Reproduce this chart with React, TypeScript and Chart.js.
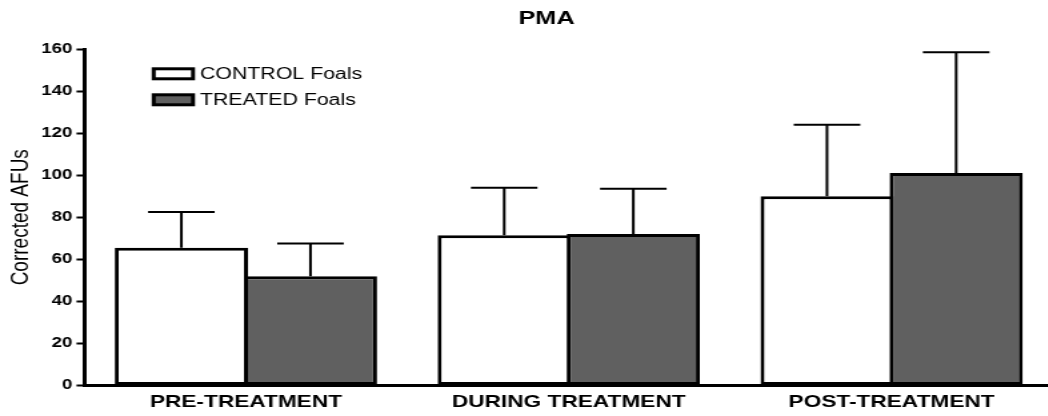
import { useEffect, useRef } from 'react';
import { Chart, registerables } from 'chart.js';

Chart.register(...registerables);

// ---- data ----
const chartTitle = 'PMA';
const yAxisTitle = 'Corrected AFUs';
const categories = ['PRE-TREATMENT', 'DURING TREATMENT', 'POST-TREATMENT'];
const seriesNames = ['CONTROL Foals', 'TREATED Foals'];
const controlMeans = [65.5, 71.5, 90];
const controlErrors = [17, 22.5, 34];
const treatedMeans = [52, 72, 101];
const treatedErrors = [15.5, 21.5, 57.5];
const yMin = 0;
const yMax = 160;
const yStep = 20;

// ---- styling ----
const FONT = '"Liberation Sans", Arial, Helvetica, sans-serif';
const seriesFills = ['#ffffff', '#606060'];
// The drawing buffer is rendered narrower and widened with CSS (wide lettering).
const CANVAS_W = 790;
const CANVAS_H = 416;
const X_STRETCH = 4 / 3;

// Upward-only error bars with a cap, drawn from each bar's top.
const errorBarsPlugin = {
  id: 'errorBars',
  afterDatasetsDraw(chart: any) {
    const { ctx } = chart;
    const yScale = chart.scales.y;
    chart.data.datasets.forEach((ds: any, di: number) => {
      const meta = chart.getDatasetMeta(di);
      meta.data.forEach((bar: any, i: number) => {
        const { x, y, width } = bar.getProps(['x', 'y', 'width'], true);
        const top = yScale.getPixelForValue(ds.data[i] + ds.errors[i]);
        const half = width * 0.25;
        ctx.save();
        ctx.strokeStyle = '#000';
        ctx.lineWidth = 2;
        ctx.beginPath();
        ctx.moveTo(x, y);
        ctx.lineTo(x, top);
        ctx.moveTo(x - half, top);
        ctx.lineTo(x + half, top);
        ctx.stroke();
        ctx.restore();
      });
    });
  },
};

// Title and the boxed key in the upper-left of the plot.
const headerAndKeyPlugin = {
  id: 'headerAndKey',
  afterDraw(chart: any) {
    const { ctx } = chart;
    ctx.save();
    ctx.fillStyle = '#000';
    ctx.font = `bold 19px ${FONT}`;
    ctx.textAlign = 'center';
    ctx.textBaseline = 'middle';
    ctx.fillText(chartTitle, 410, 19);

    chart.data.datasets.forEach((ds: any, i: number) => {
      const cy = 73.8 + i * 26;
      ctx.fillStyle = ds.backgroundColor;
      ctx.fillRect(115.3, cy - 5, 29.5, 10);
      ctx.lineWidth = 3;
      ctx.strokeStyle = '#000';
      ctx.strokeRect(115.3, cy - 5, 29.5, 10);
      ctx.fillStyle = '#000';
      ctx.font = `16px ${FONT}`;
      ctx.textAlign = 'left';
      ctx.textBaseline = 'middle';
      ctx.fillText(ds.label, 150, cy + 0.5);
    });
    ctx.restore();
  },
};

export default function App() {
  const canvasRef = useRef<HTMLCanvasElement | null>(null);

  useEffect(() => {
    if (!canvasRef.current) return;
    const chart = new Chart(canvasRef.current, {
      type: 'bar',
      data: {
        labels: categories,
        datasets: [
          {
            label: seriesNames[0],
            data: controlMeans,
            errors: controlErrors,
            backgroundColor: seriesFills[0],
            borderColor: '#000',
            borderWidth: 3,
            borderSkipped: false,
          } as any,
          {
            label: seriesNames[1],
            data: treatedMeans,
            errors: treatedErrors,
            backgroundColor: seriesFills[1],
            borderColor: '#000',
            borderWidth: 3,
            borderSkipped: false,
          } as any,
        ],
      },
      options: {
        responsive: false,
        animation: false,
        devicePixelRatio: 1,
        layout: { padding: { top: 49, right: 0, bottom: 0, left: 0 } },
        datasets: { bar: { categoryPercentage: 0.8, barPercentage: 1.031 } },
        plugins: {
          legend: { display: false },
          title: { display: false },
          tooltip: { enabled: false },
        },
        scales: {
          x: {
            grid: { display: false, drawTicks: false },
            border: { display: true, color: '#000', width: 3 },
            ticks: {
              color: '#000',
              font: { family: FONT, size: 17, weight: 'bold' },
              padding: 7,
              maxRotation: 0,
              autoSkip: false,
            },
            afterFit: (s: any) => {
              s.height = 30.5;
            },
          },
          y: {
            min: yMin,
            max: yMax,
            ticks: {
              stepSize: yStep,
              color: '#000',
              font: { family: FONT, size: 14, weight: 'bold' },
              padding: 3,
            },
            grid: {
              drawOnChartArea: false,
              drawTicks: true,
              tickLength: 6,
              tickWidth: 2,
              tickColor: '#000',
              color: '#000',
            },
            border: { display: true, color: '#000', width: 3 },
            title: {
              display: true,
              text: yAxisTitle,
              color: '#000',
              font: { family: FONT, size: 19, weight: 'normal' },
              padding: { top: 4, bottom: 0 },
            },
            afterFit: (s: any) => {
              s.width = 63.4;
            },
          },
        },
      } as any,
      plugins: [errorBarsPlugin, headerAndKeyPlugin],
    });
    return () => chart.destroy();
  }, []);

  return (
    <div
      style={{
        position: 'fixed',
        left: 0,
        top: 0,
        width: 1048,
        height: 416,
        overflow: 'hidden',
        background: '#fff',
      }}
    >
      <canvas
        ref={canvasRef}
        width={CANVAS_W}
        height={CANVAS_H}
        style={{ display: 'block', width: `${CANVAS_W * X_STRETCH}px`, height: `${CANVAS_H}px` }}
      />
    </div>
  );
}
